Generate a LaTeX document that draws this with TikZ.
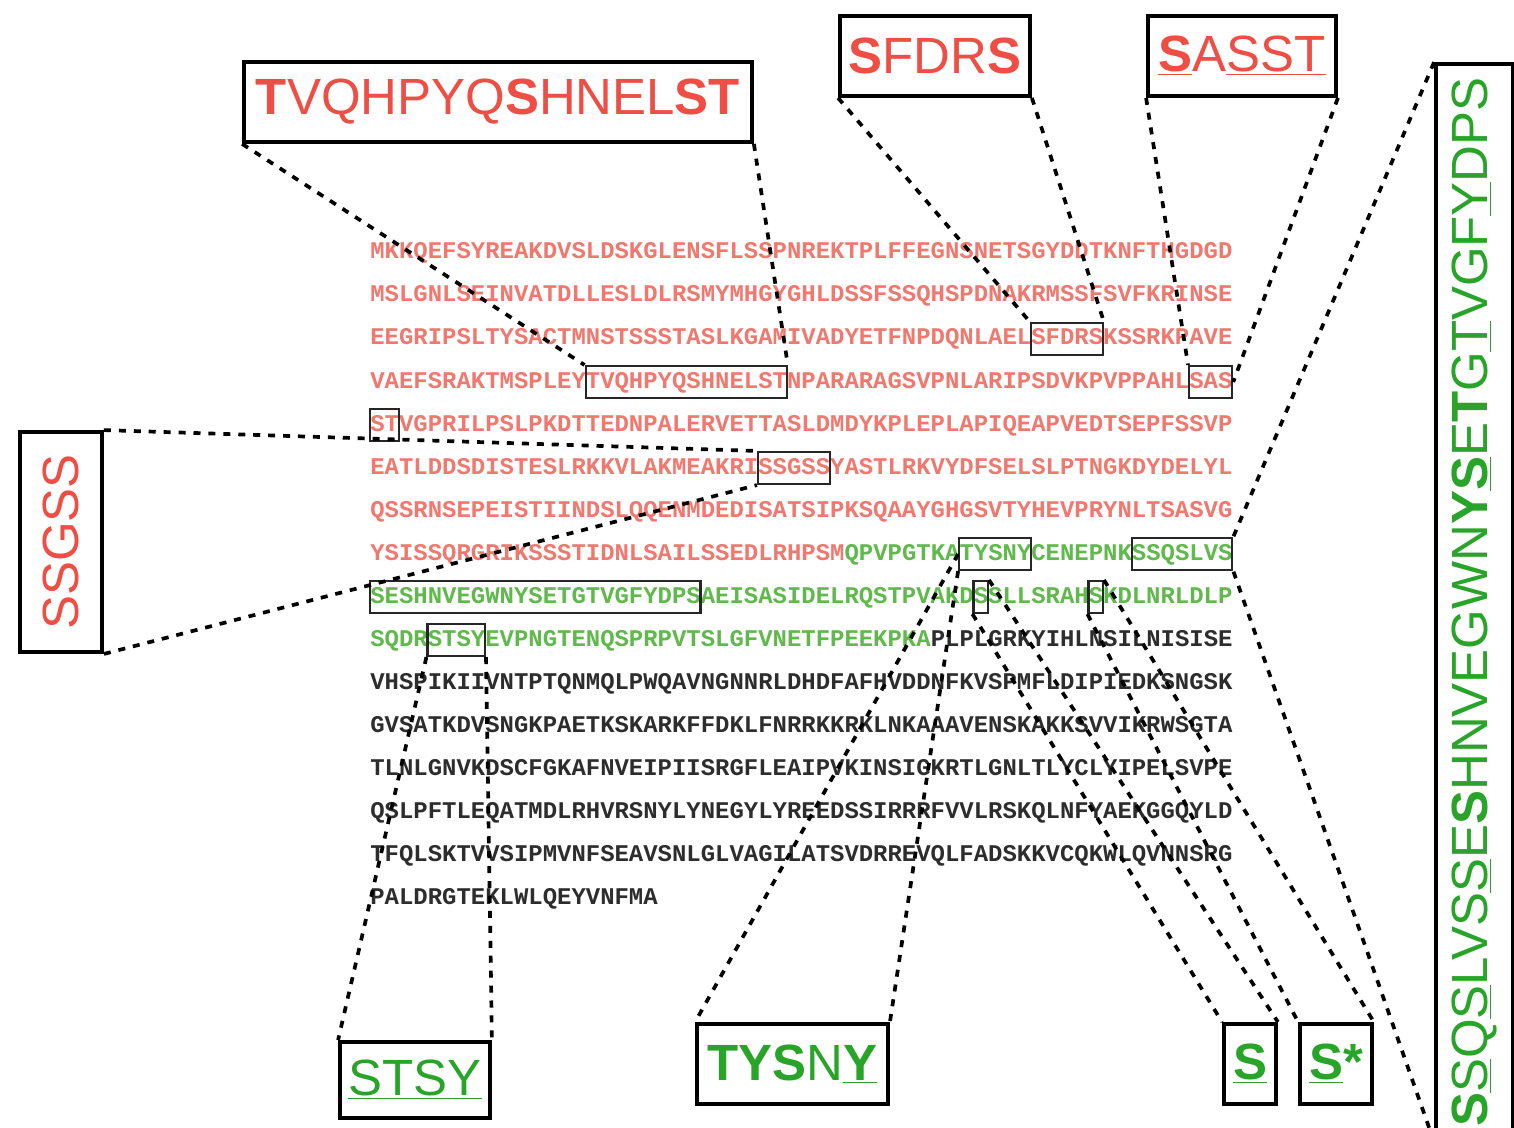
\documentclass[tikz,border=0pt]{standalone}
\usepackage{fontspec}
\usepackage{graphicx}
\newfontfamily\seqfont{Liberation Mono}
\newfontfamily\labfont{Liberation Sans}

\definecolor{labred}{RGB}{238,78,68}
\definecolor{labgreen}{RGB}{40,165,40}
\definecolor{seqred}{RGB}{240,120,110}
\definecolor{seqgreen}{RGB}{95,185,75}
\definecolor{seqblack}{RGB}{45,45,45}

\newcommand{\uln}[1]{\underline{#1}}
% box round residues #3..#4 of sequence line #2
\newcommand{\seqbox}[4]{%
  \pgfmathsetmacro{\sqbx}{370+(#3-1+(#4-#3+1)/2)*14.37}%
  \pgfmathsetmacro{\sqby}{253+(#2-1)*43}%
  \pgfmathsetmacro{\sqbw}{(#4-#3+1)*14.37*0.02}%
  \node[seqbox, minimum width=\sqbw cm] (#1) at (\sqbx,\sqby) {};}

\tikzset{
  seq/.style={font=\seqfont\bfseries\fontsize{13.63}{14}\selectfont, inner sep=0pt, text=seqred},
  seqbox/.style={draw=black!85, line width=1.2pt, inner sep=0pt, minimum height=0.64cm},
  lab/.style={draw, line width=2.2pt, inner sep=0pt, font=\labfont\fontsize{29}{30}\selectfont},
  link/.style={line width=2.1pt, dash pattern=on 4pt off 4.5pt},
}

\begin{document}
\begin{tikzpicture}[x=0.02cm, y=-0.02cm]
	\useasboundingbox[fill=white] (0,0) rectangle (1514,1128);
	% sequence
	\foreach \txt [count=\i] in {
		{MKKQEFSYREAKDVSLDSKGLENSFLSSPNREKTPLFFEGNSNETSGYDDTKNFTHGDGD},
		{MSLGNLSEINVATDLLESLDLRSMYMHGYGHLDSSFSSQHSPDNAKRMSSFSVFKRINSE},
		{EEGRIPSLTYSACTMNSTSSSTASLKGAMIVADYETFNPDQNLAELSFDRSKSSRKPAVE},
		{VAEFSRAKTMSPLEYTVQHPYQSHNELSTNPARARAGSVPNLARIPSDVKPVPPAHLSAS},
		{STVGPRILPSLPKDTTEDNPALERVETTASLDMDYKPLEPLAPIQEAPVEDTSEPFSSVP},
		{EATLDDSDISTESLRKKVLAKMEAKRISSGSSYASTLRKVYDFSELSLPTNGKDYDELYL},
		{QSSRNSEPEISTIINDSLQQENMDEDISATSIPKSQAAYGHGSVTYHEVPRYNLTSASVG},
		{YSISSQRGRIKSSSTIDNLSAILSSEDLRHPSM\textcolor{seqgreen}{QPVPGTKATYSNYCENEPNKSSQSLVS}},
		{\color{seqgreen}SESHNVEGWNYSETGTVGFYDPSAEISASIDELRQSTPVAKDSSLLSRAHSKDLNRLDLP},
		{\color{seqgreen}SQDRSTSYEVPNGTENQSPRPVTSLGFVNETFPEEKPKA\textcolor{seqblack}{PLPLGRKYIHLNSILNISISE}},
		{\color{seqblack}VHSPIKIIVNTPTQNMQLPWQAVNGNNRLDHDFAFHVDDNFKVSPMFLDIPIEDKSNGSK},
		{\color{seqblack}GVSATKDVSNGKPAETKSKARKFFDKLFNRRKKRKLNKAAAVENSKAKKSVVIKRWSGTA},
		{\color{seqblack}TLNLGNVKDSCFGKAFNVEIPIISRGFLEAIPVKINSIGKRTLGNLTLYCLYIPELSVPE},
		{\color{seqblack}QSLPFTLEQATMDLRHVRSNYLYNEGYLYREEDSSIRRRFVVLRSKQLNFYAEKGGQYLD},
		{\color{seqblack}TFQLSKTVVSIPMVNFSEAVSNLGLVAGILATSVDRREVQLFADSKKVCQKWLQVNNSRG},
		{\color{seqblack}PALDRGTEKLWLQEYVNFMA}} {
		\node[seq, anchor=base west] (s\i) at (370,{259+(\i-1)*43}) {\txt};
	}
	% boxes in the sequence
	\seqbox{bTV}{4}{16}{29}
	\seqbox{bSF}{3}{47}{51}
	\seqbox{bSAS}{4}{58}{60}
	\seqbox{bST}{5}{1}{2}
	\seqbox{bSG}{6}{28}{32}
	\seqbox{bTY}{8}{42}{46}
	\seqbox{bSQ}{8}{54}{60}
	\seqbox{bSE}{9}{1}{23}
	\seqbox{bS1}{9}{43}{43}
	\seqbox{bS2}{9}{51}{51}
	\seqbox{bSTSY}{10}{5}{8}
	% labels
	\node[lab, text=labred, minimum width=10.16cm, minimum height=1.6cm] (lTV) at (498,102) {\textbf{T}VQHPYQ\textbf{S}HNEL\textbf{ST}};
	\node[lab, text=labred, minimum width=3.8cm, minimum height=1.6cm] (lSF) at (935,56) {\textbf{S}FDR\textbf{S}};
	\node[lab, text=labred, minimum width=3.76cm, minimum height=1.6cm] (lSA) at (1242,56) {\uln{\textbf{S}}A\uln{SST}};
	\node[lab, text=labred, minimum width=1.64cm, minimum height=4.4cm] (lSG) at (61,542) {\rotatebox{90}{SSGSS}};
	\node[lab, text=labgreen, minimum width=1.54cm, minimum height=21.52cm] (lRT) at (1474.5,602)
		{\rotatebox{90}{\textbf{S}\uln{S}Q\uln{S}LVS\uln{S}E\textbf{S}HNVEGWN\textbf{Y}\uln{\textbf{S}}E\textbf{T}G\uln{T}VGF\uln{Y}DPS}};
	\node[lab, text=labgreen, minimum width=3.0cm, minimum height=1.52cm] (lST) at (415,1080) {\uln{STSY}};
	\node[lab, text=labgreen, minimum width=3.82cm, minimum height=1.6cm] (lTY) at (792.5,1064) {\textbf{TYS}N\uln{\textbf{Y}}};
	\node[lab, text=labgreen, minimum width=1.04cm, minimum height=1.6cm] (lS) at (1250,1064) {\uln{\textbf{S}}};
	\node[lab, text=labgreen, minimum width=1.44cm, minimum height=1.6cm] (lSs) at (1336,1064) {\uln{\textbf{S}}\textbf{*}};
	% dashed links
	\draw[link] (lTV.south west) -- (bTV.north west);
	\draw[link] (lTV.south east) -- (bTV.north east);
	\draw[link] (lSF.south west) -- (bSF.north west);
	\draw[link] (lSF.south east) -- (bSF.north east);
	\draw[link] (lSA.south west) -- (bSAS.north west);
	\draw[link] (lSA.south east) -- (bSAS.east);
	\draw[link] (lSG.north east) -- (bSG.north west);
	\draw[link] (lSG.south east) -- (bSG.south west);
	\draw[link] (lRT.north west) -- (bSQ.north east);
	\draw[link] (lRT.south west) -- (bSQ.south east);
	\draw[link] (bSTSY.south west) -- (lST.north west);
	\draw[link] (bSTSY.south east) -- (lST.north east);
	\draw[link] (bTY.west) -- (lTY.north west);
	\draw[link] (bTY.south west) -- (lTY.north east);
	\draw[link] (bS1.south west) -- (lS.north west);
	\draw[link] (bS1.north east) -- (lS.north east);
	\draw[link] (bS2.south west) -- (lSs.north west);
	\draw[link] (bS2.north east) -- (lSs.north east);
\end{tikzpicture}
\end{document}
